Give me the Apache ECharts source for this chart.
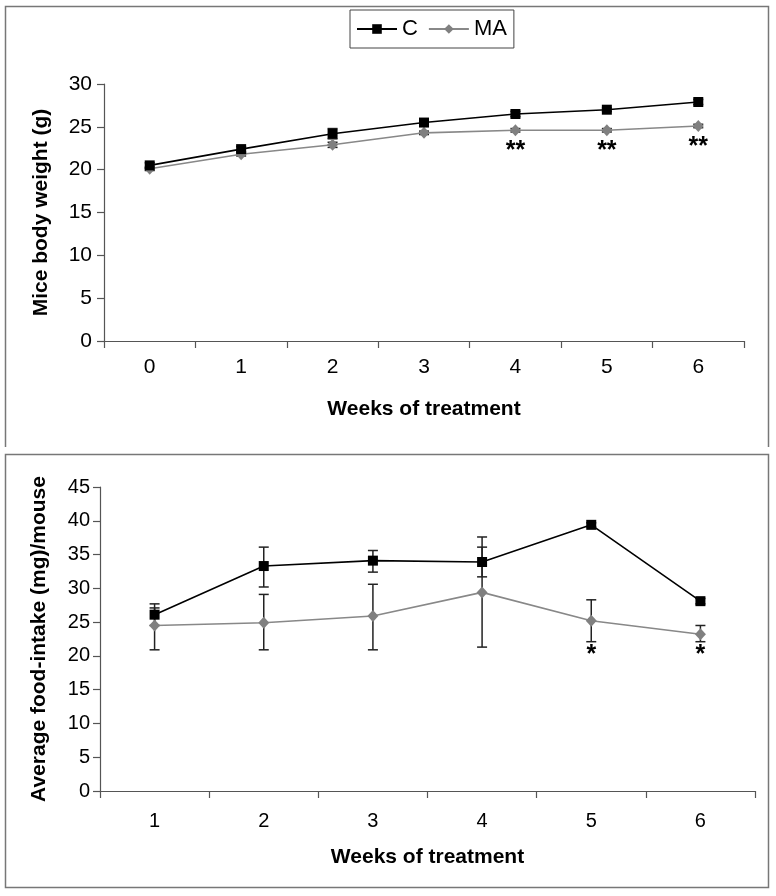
<!DOCTYPE html>
<html>
<head>
<meta charset="utf-8">
<script src="https://cdn.jsdelivr.net/npm/echarts@6/dist/echarts.min.js"></script>
<style>
html,body{margin:0;padding:0;background:#fff;}
#chart{width:776px;height:896px;}
</style>
</head>
<body>
<div id="chart"></div>
<script>
// ---- Top panel: body weight ----
const weeksTop = ['0', '1', '2', '3', '4', '5', '6'];
const weightC = [20.5, 22.4, 24.2, 25.5, 26.5, 27.0, 27.9];
const weightCErr = [0.3, 0.3, 0.6, 0.4, 0.3, 0.2, 0.3];
const weightMA = [20.1, 21.8, 22.9, 24.3, 24.6, 24.6, 25.1];
const weightMAErr = [0.2, 0.2, 0.3, 0.2, 0.2, 0.2, 0.2];
const weightStars = ['', '', '', '', '**', '**', '**'];

// ---- Bottom panel: food intake ----
const weeksBottom = ['1', '2', '3', '4', '5', '6'];
const foodC = [26.1, 33.3, 34.1, 33.9, 39.4, 28.1];
const foodCLow = [24.5, 30.2, 32.4, 31.7, 39.1, 27.7];
const foodCHigh = [27.7, 36.1, 35.6, 36.1, 39.7, 28.5];
const foodMA = [24.5, 24.9, 25.9, 29.4, 25.2, 23.2];
const foodMALow = [20.9, 20.9, 20.9, 21.3, 22.1, 22.1];
const foodMAHigh = [27.1, 29.1, 30.6, 37.6, 28.3, 24.5];
const foodStars = ['', '', '', '', '*', '*'];

const FONT = "'Liberation Sans', Arial, sans-serif";

function errRender(params, api) {
  const x = api.value(0);
  const lo = api.coord([x, api.value(1)]);
  const hi = api.coord([x, api.value(2)]);
  const w = 5;
  const st = {stroke: '#222', lineWidth: 1.5};
  return {
    type: 'group',
    children: [
      {type: 'line', shape: {x1: lo[0], y1: lo[1], x2: hi[0], y2: hi[1]}, style: st},
      {type: 'line', shape: {x1: lo[0] - w, y1: lo[1], x2: lo[0] + w, y2: lo[1]}, style: st},
      {type: 'line', shape: {x1: hi[0] - w, y1: hi[1], x2: hi[0] + w, y2: hi[1]}, style: st}
    ]
  };
}

function starRender(stars, offset) {
  return function (params, api) {
    const txt = stars[params.dataIndex];
    if (!txt) return null;
    const p = api.coord([api.value(0), api.value(1)]);
    return {
      type: 'text',
      style: {
        x: p[0], y: p[1] + offset, text: txt, align: 'center', verticalAlign: 'middle',
        font: "bold 25px " + FONT, fill: '#000'
      }
    };
  };
}

const topErrC = weeksTop.map((w, i) => [i, weightC[i] - weightCErr[i], weightC[i] + weightCErr[i]]);
const topErrMA = weeksTop.map((w, i) => [i, weightMA[i] - weightMAErr[i], weightMA[i] + weightMAErr[i]]);
const botErrC = weeksBottom.map((w, i) => [i, foodCLow[i], foodCHigh[i]]);
const botErrMA = weeksBottom.map((w, i) => [i, foodMALow[i], foodMAHigh[i]]);

const axisLine = {lineStyle: {color: '#555', width: 1.2}};
const axisTick = {show: true, length: 7, inside: false, lineStyle: {color: '#555', width: 1.2}};

const chart = echarts.init(document.getElementById('chart'), null, {renderer: 'canvas'});
chart.setOption({
  backgroundColor: '#fff',
  animation: false,
  graphic: [
    {type: 'polyline', shape: {points: [[5.5, 447], [5.5, 6.5], [768.5, 6.5], [768.5, 447]]},
     style: {stroke: '#777', lineWidth: 1.5, fill: null}, silent: true},
    {type: 'rect', shape: {x: 5.5, y: 454.5, width: 763, height: 433},
     style: {stroke: '#777', lineWidth: 1.5, fill: null}, silent: true}
  ],
  legend: {
    data: ['C', 'MA'],
    left: 350, top: 10,
    borderColor: '#444', borderWidth: 1,
    padding: [8, 7, 8, 6],
    itemGap: 10,
    itemWidth: 40, itemHeight: 12,
    textStyle: {fontFamily: FONT, fontSize: 22, color: '#000'}
  },
  grid: [
    {left: 104, right: 32, top: 84, height: 257},
    {left: 100, right: 21, top: 487, height: 304}
  ],
  xAxis: [
    {type: 'category', gridIndex: 0, data: weeksTop, boundaryGap: true,
     axisLine: axisLine, axisTick: axisTick,
     axisLabel: {fontFamily: FONT, fontSize: 21, color: '#000', margin: 16},
     name: 'Weeks of treatment', nameLocation: 'middle', nameGap: 58,
     nameTextStyle: {fontFamily: FONT, fontWeight: 'bold', fontSize: 21, color: '#000'}},
    {type: 'category', gridIndex: 1, data: weeksBottom, boundaryGap: true,
     axisLine: axisLine, axisTick: axisTick,
     axisLabel: {fontFamily: FONT, fontSize: 20, color: '#000', margin: 20},
     name: 'Weeks of treatment', nameLocation: 'middle', nameGap: 56,
     nameTextStyle: {fontFamily: FONT, fontWeight: 'bold', fontSize: 21, color: '#000'}}
  ],
  yAxis: [
    {type: 'value', gridIndex: 0, min: 0, max: 30, interval: 5,
     axisLine: {show: true, lineStyle: {color: '#555', width: 1.2}}, axisTick: axisTick, splitLine: {show: false},
     axisLabel: {fontFamily: FONT, fontSize: 21, color: '#000', margin: 12},
     name: 'Mice body weight (g)', nameLocation: 'middle', nameGap: 52, nameRotate: 90,
     nameTextStyle: {fontFamily: FONT, fontWeight: 'bold', fontSize: 21, color: '#000'}},
    {type: 'value', gridIndex: 1, min: 0, max: 45, interval: 5,
     axisLine: {show: true, lineStyle: {color: '#555', width: 1.2}}, axisTick: axisTick, splitLine: {show: false},
     axisLabel: {fontFamily: FONT, fontSize: 20, color: '#000', margin: 10},
     name: 'Average food-intake (mg)/mouse', nameLocation: 'middle', nameGap: 50, nameRotate: 90,
     nameTextStyle: {fontFamily: FONT, fontWeight: 'bold', fontSize: 21, color: '#000'}}
  ],
  series: [
    {type: 'custom', xAxisIndex: 0, yAxisIndex: 0, renderItem: errRender, data: topErrC, z: 1, encode: {x: 0, y: [1, 2]}},
    {type: 'custom', xAxisIndex: 0, yAxisIndex: 0, renderItem: errRender, data: topErrMA, z: 1, encode: {x: 0, y: [1, 2]}},
    {name: 'C', type: 'line', xAxisIndex: 0, yAxisIndex: 0, data: weightC, z: 3,
     symbol: 'rect', symbolSize: 10, showAllSymbol: true,
     lineStyle: {color: '#000', width: 1.6}, itemStyle: {color: '#000'}},
    {name: 'MA', type: 'line', xAxisIndex: 0, yAxisIndex: 0, data: weightMA, z: 2,
     symbol: 'diamond', symbolSize: [11, 12], showAllSymbol: true,
     lineStyle: {color: '#888', width: 1.6}, itemStyle: {color: '#808080'}},
    {type: 'custom', xAxisIndex: 0, yAxisIndex: 0, renderItem: starRender(weightStars, 21),
     data: weeksTop.map((w, i) => [i, weightMA[i]]), z: 4, encode: {x: 0, y: 1}},

    {type: 'custom', xAxisIndex: 1, yAxisIndex: 1, renderItem: errRender, data: botErrC, z: 1, encode: {x: 0, y: [1, 2]}},
    {type: 'custom', xAxisIndex: 1, yAxisIndex: 1, renderItem: errRender, data: botErrMA, z: 1, encode: {x: 0, y: [1, 2]}},
    {name: 'C', type: 'line', xAxisIndex: 1, yAxisIndex: 1, data: foodC, z: 3,
     symbol: 'rect', symbolSize: 10, showAllSymbol: true,
     lineStyle: {color: '#000', width: 1.6}, itemStyle: {color: '#000'}},
    {name: 'MA', type: 'line', xAxisIndex: 1, yAxisIndex: 1, data: foodMA, z: 2,
     symbol: 'diamond', symbolSize: [11, 12], showAllSymbol: true,
     lineStyle: {color: '#888', width: 1.6}, itemStyle: {color: '#808080'}},
    {type: 'custom', xAxisIndex: 1, yAxisIndex: 1, renderItem: starRender(foodStars, 13),
     data: weeksBottom.map((w, i) => [i, foodMALow[i]]), z: 4, encode: {x: 0, y: 1}}
  ]
});
</script>
</body>
</html>
